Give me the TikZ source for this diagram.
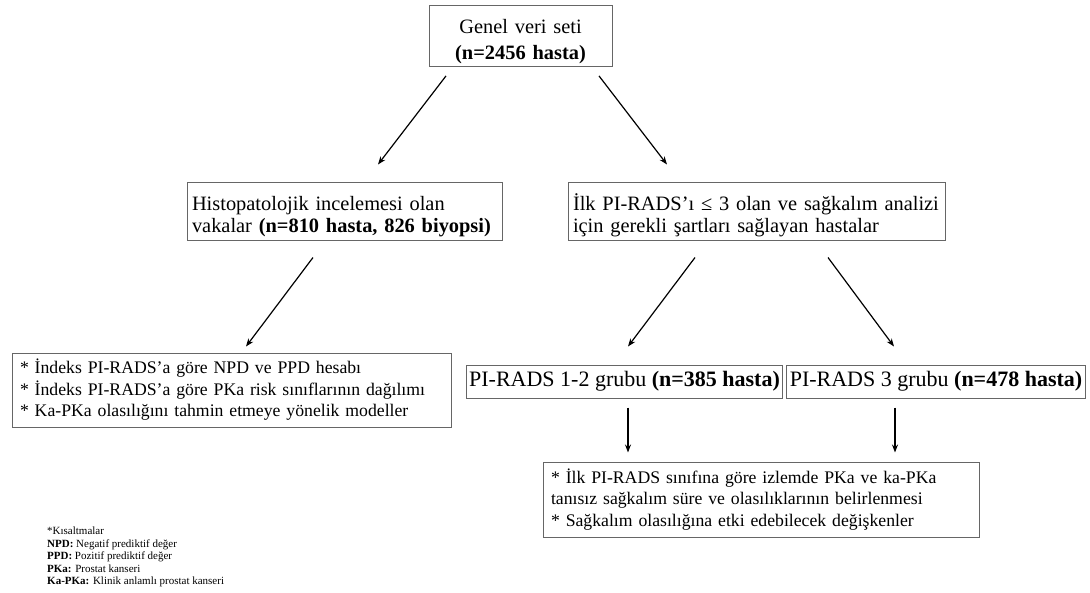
\documentclass[tikz,border=0pt]{standalone}
\usepackage{fontspec}
\setmainfont{Liberation Serif}
\usetikzlibrary{arrows.meta, positioning}

\begin{document}
\begin{tikzpicture}[
      x=1pt, y=-1pt,
      >={Stealth[length=8pt, width=6pt]},
      box/.style={rectangle, draw=black!60, line width=1pt, inner xsep=5pt,
                  inner ysep=3pt, align=left, fill=white},
      bigbox/.style={box, font=\fontsize{20.4}{22.5}\selectfont,
                     execute at begin node={\rule{0pt}{25pt}}},
      smallbox/.style={box, inner xsep=8pt, font=\fontsize{17.7}{21.5}\selectfont},
      grpbox/.style={box, align=center, inner sep=3pt, minimum height=33pt,
                     font=\fontsize{22}{24}\selectfont},
      arr/.style={->, line width=1.2pt},
    ]
      \useasboundingbox (0,0) rectangle (1090,592);
      % upper level
      \node[bigbox, align=center, text width=173pt, minimum height=58pt,
            font=\fontsize{20.4}{25.5}\selectfont] (genel) at (520.5,36)
        {Genel veri seti\\\textbf{(n=2456 hasta)}};
      \node[bigbox, text width=305pt, minimum height=58pt] (histo) at (344.5,211)
        {Histopatolojik incelemesi olan\\vakalar \textbf{(n=810 hasta, 826 biyopsi)}};
      \node[bigbox, text width=367pt, minimum height=58pt] (ilk) at (756.5,211)
        {İlk PI-RADS’ı ≤ 3 olan ve sağkalım analizi\\için gerekli şartları sağlayan hastalar};
      % lower level
      \node[smallbox, text width=423pt, minimum height=74pt] (sonuc1) at (231.5,390)
        {* İndeks PI-RADS’a göre NPD ve PPD hesabı\\{}*
         İndeks PI-RADS’a göre PKa risk sınıflarının dağılımı\\{}*
         Ka-PKa olasılığını tahmin etmeye yönelik modeller};
      \node[grpbox, minimum width=309pt] (pr12) at (624.5,381.5)
        {PI-RADS 1-2 grubu \textbf{(n=385 hasta)}};
      \node[grpbox, minimum width=290pt] (pr3) at (936,381.5)
        {PI-RADS 3 grubu \textbf{(n=478 hasta)}};
      \node[smallbox, text width=420pt, minimum height=75pt] (sonuc2) at (761,499.5)
        {* İlk PI-RADS sınıfına göre izlemde PKa ve ka-PKa\\
         tanısız sağkalım süre ve olasılıklarının belirlenmesi\\{}*
         Sağkalım olasılığına etki edebilecek değişkenler};
      % abbreviations
      \node[anchor=north west, align=left, inner sep=0pt,
            font=\fontsize{11}{12.5}\selectfont] (kisalt) at (47,527)
        {*Kısaltmalar\\
         \textbf{NPD:} Negatif prediktif değer\\
         \textbf{PPD:} Pozitif prediktif değer\\
         \textbf{PKa:} Prostat kanseri\\
         \textbf{Ka-PKa:} Klinik anlamlı prostat kanseri};
      % arrows
      \draw[arr] ([xshift=-74.5pt, yshift=-9pt]genel.south) -- ([xshift=33.5pt, yshift=17pt]histo.north);
      \draw[arr] ([xshift=78.5pt, yshift=-9pt]genel.south) -- ([xshift=-89.5pt, yshift=17pt]ilk.north);
      \draw[arr] ([xshift=-31.5pt, yshift=-17pt]histo.south) -- ([xshift=14.5pt, yshift=6pt]sonuc1.north);
      \draw[arr] ([xshift=-61.5pt, yshift=-17pt]ilk.south) -- ([xshift=3.5pt, yshift=18pt]pr12.north);
      \draw[arr] ([xshift=71.5pt, yshift=-17pt]ilk.south) -- ([xshift=-42pt, yshift=18pt]pr3.north);
      \draw[arr] ([xshift=3.5pt, yshift=-9pt]pr12.south) -- ([xshift=-133pt, yshift=9pt]sonuc2.north);
      \draw[arr] ([xshift=-41pt, yshift=-9pt]pr3.south) -- ([xshift=134pt, yshift=9pt]sonuc2.north);
    \end{tikzpicture}
\end{document}
